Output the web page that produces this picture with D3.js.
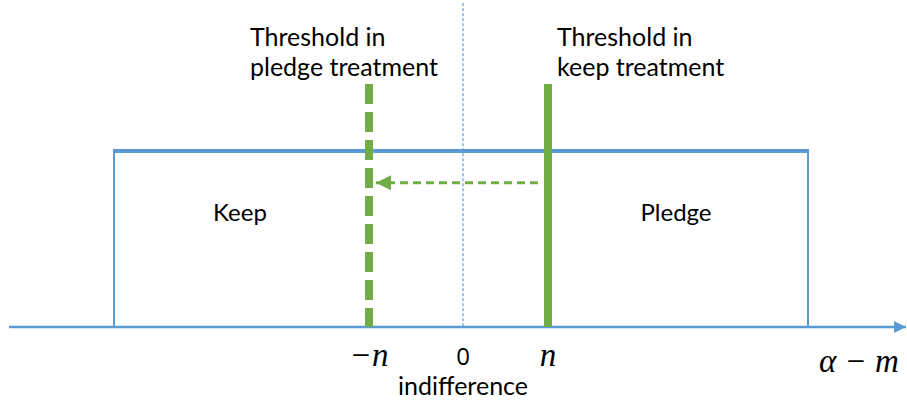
<!DOCTYPE html>
<html>
<head>
<meta charset="utf-8">
<script src="https://cdn.jsdelivr.net/npm/d3@7"></script>
<style>
  *{box-sizing: border-box;}
  body{ margin: 0; padding: 0; background: #fff; }
  svg{ display: block; }
  .lbl{ font-family: Lato, "Open Sans", sans-serif; fill: #000; }
  .num{ font-family: "Open Sans", sans-serif; fill: #000; }
  .math{ font-family: "Liberation Serif", "DejaVu Serif", serif; font-style: italic; fill: #000; }
</style>
</head>
<body>
<svg id="chart" width="907" height="407"></svg>
<script>
  // values in units of (alpha - m); 0 = indifference
  let support     = [-3.49, 3.45];       // uniform density from .. to
  let density     = 1;
  let thresholds  = [
    { name: 'pledge', at: -0.94, top: 1.38, dashed: true,  label: ['Threshold in', 'pledge treatment'] },
    { name: 'keep',   at:  0.85, top: 1.38, dashed: false, label: ['Threshold in', 'keep treatment'] }
  ];
  let indifference = { at: 0, top: 1.84 };
  let shiftArrow   = { from: 0.75, to: -0.87, level: 0.82 };
  let regions      = [
    { text: 'Keep',   at: -2.23, level: 0.6 },
    { text: 'Pledge', at:  2.13, level: 0.6 }
  ];
  let ticks = [
    { text: '\u2212n', at: -0.94 },
    { text: '0',       at: 0 },
    { text: 'n',       at: 0.85 }
  ];

  let blue = '#5B9BD5', green = '#70AD47';
  let svg = d3.select('svg#chart');

  let x = d3.scaleLinear().domain([-4.63, 4.44]).range([0, 907]);
  let y = d3.scaleLinear().domain([0, 1]).range([327, 151]);

  let defs = svg.append('defs');
  defs.append('marker')
    .attr('id', 'axisHead').attr('viewBox', '0 0 10 10')
    .attr('refX', 10).attr('refY', 5)
    .attr('markerWidth', 5).attr('markerHeight', 5)
    .attr('markerUnits', 'strokeWidth').attr('orient', 'auto')
    .append('path').attr('d', 'M0,0L10,5L0,10z').attr('fill', blue);
  defs.append('marker')
    .attr('id', 'greenHead').attr('viewBox', '0 0 10 10')
    .attr('refX', 10).attr('refY', 5)
    .attr('markerWidth', 5).attr('markerHeight', 5.5)
    .attr('markerUnits', 'strokeWidth').attr('orient', 'auto')
    .append('path').attr('d', 'M0,0L10,5L0,10z').attr('fill', green);

  // center dotted line (indifference)
  svg.append('line')
    .attr('x1', x(indifference.at)).attr('x2', x(indifference.at))
    .attr('y1', y(indifference.top)).attr('y2', y(0))
    .attr('stroke', blue).attr('stroke-width', 1.2)
    .attr('stroke-dasharray', '3 2');

  // uniform density: sides and top
  svg.selectAll('.side')
    .data(support)
    .enter().append('line')
      .attr('class', 'side')
      .attr('x1', d => x(d)).attr('x2', d => x(d))
      .attr('y1', y(density)).attr('y2', y(0))
      .attr('stroke', blue).attr('stroke-width', 2);
  svg.append('line')
    .attr('x1', x(support[0]) - 1).attr('x2', x(support[1]) + 1)
    .attr('y1', y(density)).attr('y2', y(density))
    .attr('stroke', blue).attr('stroke-width', 4);

  // axis
  svg.append('line')
    .attr('x1', 9).attr('x2', 906)
    .attr('y1', y(0)).attr('y2', y(0))
    .attr('stroke', blue).attr('stroke-width', 2.5)
    .attr('marker-end', 'url(#axisHead)');

  // threshold lines
  svg.selectAll('.thr')
    .data(thresholds)
    .enter().append('line')
      .attr('class', 'thr')
      .attr('x1', d => x(d.at)).attr('x2', d => x(d.at))
      .attr('y1', d => y(d.top)).attr('y2', y(0))
      .attr('stroke', green).attr('stroke-width', 8)
      .attr('stroke-dasharray', d => d.dashed ? '20 8' : null);

  // shift arrow
  svg.append('line')
    .attr('x1', x(shiftArrow.from)).attr('x2', x(shiftArrow.to))
    .attr('y1', y(shiftArrow.level)).attr('y2', y(shiftArrow.level))
    .attr('stroke', green).attr('stroke-width', 3)
    .attr('stroke-dasharray', '8 5')
    .attr('marker-end', 'url(#greenHead)');

  // threshold labels
  thresholds.forEach(d => {
    let t = svg.append('text').attr('class', 'lbl')
      .attr('y', 46)
      .style('font-size', '25px');
    d.label.forEach((s, i) => {
      t.append('tspan').attr('x', x(d.at) + (d.dashed ? -119 : 9)).attr('dy', i ? 30 : 0).text(s);
    });
  });

  // region labels
  svg.selectAll('.reg')
    .data(regions)
    .enter().append('text')
      .attr('class', 'lbl')
      .attr('x', d => x(d.at)).attr('y', d => y(d.level))
      .attr('text-anchor', 'middle')
      .style('font-size', '24px')
      .text(d => d.text);

  // tick labels
  svg.selectAll('.tk')
    .data(ticks)
    .enter().append('text')
      .attr('class', d => d.text === '0' ? 'num' : 'math')
      .attr('x', d => x(d.at)).attr('y', d => d.text === '0' ? 365 : 366)
      .attr('text-anchor', 'middle')
      .style('font-size', d => d.text === '0' ? '24px' : '33px')
      .text(d => d.text);

  svg.append('text').attr('class', 'lbl')
    .attr('x', x(indifference.at)).attr('y', 395)
    .attr('text-anchor', 'middle')
    .style('font-size', '25px')
    .text('indifference');

  svg.append('text').attr('class', 'math')
    .attr('x', 859).attr('y', 372)
    .attr('text-anchor', 'middle')
    .style('font-size', '33px')
    .text('\u03B1 \u2212 m');
</script>
</body>
</html>
